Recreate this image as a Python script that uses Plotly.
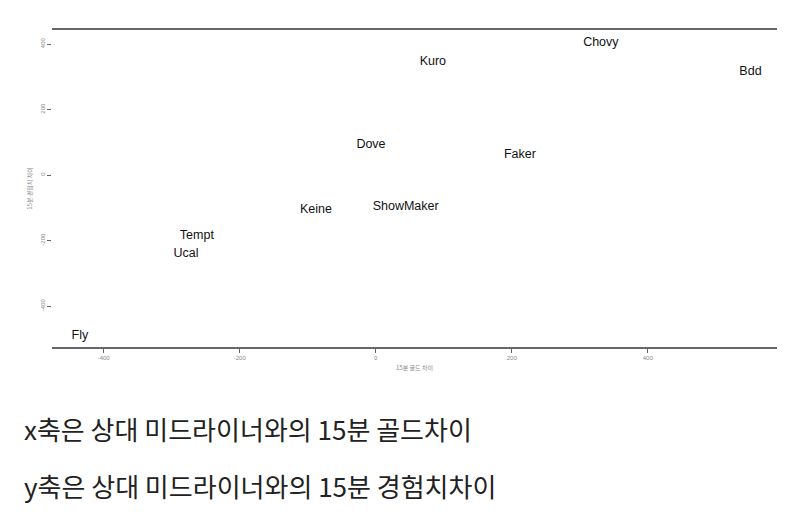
import plotly.graph_objects as go

players = ["Chovy", "Kuro", "Bdd", "Dove", "Faker", "Keine", "ShowMaker", "Tempt", "Ucal", "Fly"]
gold_diff = [331, 84, 551, -7, 212, -88, 44, -263, -279, -435]
xp_diff = [403, 345, 315, 92, 61, -107, -98, -186, -241, -492]

x_ticks = [-400, -200, 0, 200, 400]
y_ticks = [400, 200, 0, -200, -400]

caption_x = "x축은 상대 미드라이너와의 15분 골드차이"
caption_y = "y축은 상대 미드라이너와의 15분 경험치차이"

fig = go.Figure()
fig.add_trace(go.Scatter(
    x=gold_diff, y=xp_diff, text=players, mode="text",
    textposition="middle center",
    textfont=dict(family="Liberation Sans, Arial, sans-serif", size=12.5, color="#111111"),
    hoverinfo="text", showlegend=False,
))

fig.update_layout(
    width=800, height=532,
    paper_bgcolor="white", plot_bgcolor="white",
    margin=dict(l=44, r=31, t=22, b=193),
    xaxis=dict(
        range=[-476, 590], tickvals=x_ticks, ticktext=[str(v) for v in x_ticks],
        showgrid=False, zeroline=False, showline=True, mirror=True,
        linecolor="#666666", linewidth=1.5,
        ticks="outside", ticklen=4, tickcolor="#666666",
        tickfont=dict(size=6, color="#888888", family="Liberation Sans, Arial, sans-serif"),
        title=dict(text="15분 골드 차이", font=dict(size=6, color="#888888", family="Noto Sans CJK KR"), standoff=6),
    ),
    yaxis=dict(
        range=[-525, 443], tickvals=y_ticks, ticktext=[str(v) for v in y_ticks],
        showgrid=False, zeroline=False, showline=False,
        ticks="outside", ticklen=4, tickcolor="#666666", tickangle=-90,
        tickfont=dict(size=6, color="#888888", family="Liberation Sans, Arial, sans-serif"),
        title=dict(text="15분 경험치 차이", font=dict(size=6, color="#888888", family="Noto Sans CJK KR"), standoff=6),
    ),
    annotations=[
        dict(text=caption_x, xref="paper", yref="paper", x=-0.0414, y=-0.257,
             xanchor="left", yanchor="middle", showarrow=False,
             font=dict(family="Noto Sans CJK KR", size=26, color="#222222")),
        dict(text=caption_y, xref="paper", yref="paper", x=-0.0414, y=-0.437,
             xanchor="left", yanchor="middle", showarrow=False,
             font=dict(family="Noto Sans CJK KR", size=26, color="#222222")),
    ],
)

fig.write_html("out.html")
